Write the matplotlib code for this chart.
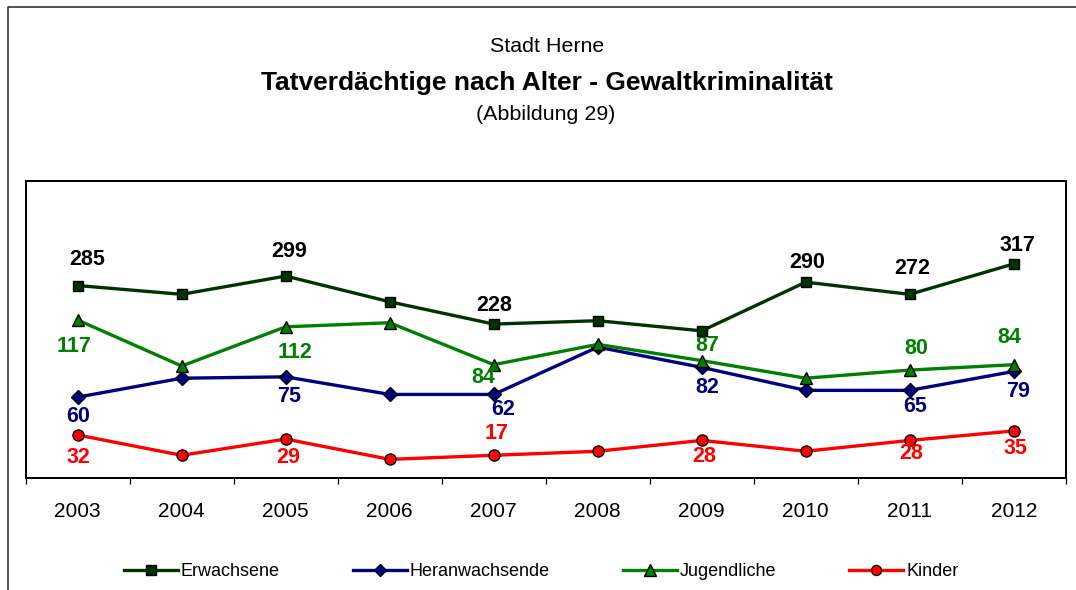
import matplotlib
matplotlib.use("Agg")
import matplotlib.pyplot as plt
from matplotlib.lines import Line2D

plt.rcParams["font.family"] = ["Liberation Sans", "DejaVu Sans"]

years = ["2003", "2004", "2005", "2006", "2007", "2008", "2009", "2010", "2011", "2012"]
erwachsene = [285, 272, 299, 261, 228, 233, 218, 290, 272, 317]
heranwachsende = [60, 74, 75, 62, 62, 97, 82, 65, 65, 79]
jugendliche = [117, 83, 112, 115, 84, 99, 87, 74, 80, 84]
kinder = [32, 17, 29, 14, 17, 20, 28, 20, 28, 35]

# which points carry a value label, and where it sits (dx, dy in pixels)
label_pos = {
    "Erwachsene": {0: (9, 26), 2: (3, 25), 4: (0, 19), 7: (1, 20), 8: (3, 26), 9: (4, 18)},
    "Heranwachsende": {0: (0, -19), 2: (3, -20), 4: (9, -15), 6: (6, -20), 8: (5, -16), 9: (4, -20)},
    "Jugendliche": {0: (-4, -26), 2: (9, -26), 4: (-10, -13), 6: (6, 15), 8: (7, 22), 9: (-4, 27)},
    "Kinder": {0: (1, -22), 2: (2, -18), 4: (3, 22), 6: (2, -16), 8: (1, -13), 9: (2, -18)},
}

fig = plt.figure(figsize=(10.76, 5.9), dpi=100)
ax = fig.add_axes([25.7 / 1076, 1 - 478.3 / 590, 1040 / 1076, 297.6 / 590])
ax2 = ax.twinx()

x = list(range(len(years)))

series = [
    (ax2, "Erwachsene", erwachsene, "#003300", "s", 7.5, "black"),
    (ax, "Heranwachsende", heranwachsende, "#000080", "D", 7.0, "#000080"),
    (ax, "Jugendliche", jugendliche, "#008000", "^", 9.0, "#008000"),
    (ax, "Kinder", kinder, "#FF0000", "o", 8.0, "#FF0000"),
]

handles = []
for a, name, vals, col, mk, ms, lab_col in series:
    ln, = a.plot(x, vals, color=col, lw=2.4, marker=mk, ms=ms,
                 markerfacecolor=col, markeredgecolor="black", markeredgewidth=1.0,
                 label=name)
    handles.append(ln)
    for i, (dx, dy) in label_pos[name].items():
        a.annotate(str(vals[i]), (x[i], vals[i]), xytext=(dx, dy),
                   textcoords="offset pixels", ha="center", va="center",
                   fontsize=15.5, fontweight="bold", color=lab_col)

ax.set_xlim(-0.5, len(years) - 0.5)
ax.set_ylim(0, 220)
ax2.set_ylim(0, 440)

ax.set_xticks([i - 0.5 for i in range(len(years) + 1)])
ax.set_xticklabels([])
ax.set_xticks(x, minor=True)
ax.set_xticklabels(years, minor=True, fontsize=15)
ax.tick_params(axis="x", which="major", direction="out", length=4, width=0.9)
ax.tick_params(axis="x", which="minor", length=0, pad=17)
ax.set_yticks([])
ax2.set_yticks([])

for a in (ax, ax2):
    for s in a.spines.values():
        s.set_linewidth(1.4)
        s.set_color("black")

# chart area border (runs off the right and bottom edge)
bx = 8 / 1076
by = 1 - 6.7 / 590
fig.add_artist(Line2D([bx, bx, 1.0], [0.0, by, by], transform=fig.transFigure,
                      color="#333333", lw=1.2))

fig.text(547 / 1076, 1 - 46 / 590, "Stadt Herne", ha="center", va="center", fontsize=15.4)
fig.text(547 / 1076, 1 - 83 / 590, "Tatverdächtige nach Alter - Gewaltkriminalität",
         ha="center", va="center", fontsize=19, fontweight="bold")
fig.text(546 / 1076, 1 - 114 / 590, "(Abbildung 29)", ha="center", va="center", fontsize=15.4)

fig.legend(handles=handles, labels=[h.get_label() for h in handles],
           loc="center", bbox_to_anchor=(541 / 1076, 1 - 572 / 590), ncol=4,
           frameon=False, fontsize=13, handlelength=3.0, handletextpad=0.15,
           columnspacing=4.05, markerscale=0.9)

fig.savefig("out.png", dpi=100)
